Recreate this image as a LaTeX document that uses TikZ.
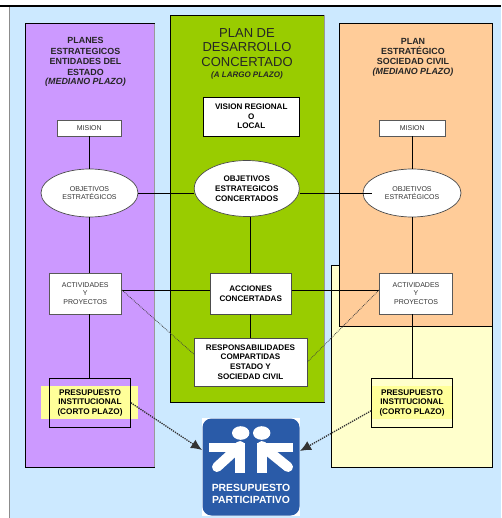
\documentclass[tikz,border=0pt]{standalone}
\usepackage{fontspec}
\setmainfont{Liberation Sans}
\usetikzlibrary{arrows.meta,shapes.geometric}

\definecolor{skyback}{HTML}{CCE9FF}
\definecolor{planpurple}{HTML}{CC99FF}
\definecolor{plangreen}{HTML}{99CC00}
\definecolor{planorange}{HTML}{FFCC99}
\definecolor{planyellow}{HTML}{FFFFCC}
\definecolor{marker}{HTML}{FFFF99}
\definecolor{logoblue}{HTML}{2A5BA8}

\tikzset{
  panel/.style={draw=black,line width=.7pt},
  title/.style={align=center,inner sep=0pt,text=black!85,font=\fontsize{8.9}{10.4}\selectfont\bfseries},
  smallbox/.style={draw=black!65,fill=white,line width=.8pt,inner sep=0pt,align=center,text=black!80,
    font=\fontsize{7}{8.2}\selectfont},
  midbox/.style={draw=black!70,fill=white,line width=.8pt,inner sep=0pt,align=center,
    font=\fontsize{8.1}{9.7}\selectfont\bfseries},
  oval/.style={ellipse,draw=black!70,fill=white,line width=.7pt,inner sep=0pt,align=center},
  budget/.style={draw=black,line width=.7pt,inner sep=0pt,align=center,minimum width=81pt,minimum height=48.5pt,
    font=\fontsize{8.2}{9.4}\selectfont\bfseries},
  link/.style={draw=black,line width=.8pt},
  dotlink/.style={draw=black!75,line width=.8pt,densely dotted},
  toplan/.style={draw=black!80,line width=1.3pt,densely dotted,-{Latex[length=11pt,width=10pt]}}
}

\begin{document}
\begin{tikzpicture}[x=1pt,y=-1pt]
\useasboundingbox (0,0) rectangle (501,518);
% background
\fill[skyback] (9,6) rectangle (501,518);
\draw[black!45,line width=.8pt] (9,6) -- (9,518);
\draw[black,line width=1.2pt] (0,6) -- (501,6);

% the plans
\draw[panel,fill=planpurple] (25.5,23.5) rectangle (154,467);
\draw[panel,fill=plangreen] (170.5,15) rectangle (324,402);
\foreach \x/\a/\b in {154.6/24/467,324.6/15/402} \draw[black!40,line width=.8pt] (\x,\a) -- (\x,\b);
\draw[panel,fill=planyellow] (331.5,265) rectangle (492.5,467);
\draw[panel,fill=planorange] (339,23.5) rectangle (492.5,326);
\fill[marker] (41,386) rectangle (138,419);
\fill[marker] (372,386) rectangle (452,419);

\node (titleleft) [title] at (85.5,62) {PLANES\\ESTRATEGICOS\\ENTIDADES DEL\\ESTADO\\[-1pt]{\itshape (MEDIANO PLAZO)}};
\node (titlemid) [align=center,inner sep=0pt,text=black!85,font=\fontsize{13}{14.4}\selectfont] at (247,47.5) {PLAN DE\\DESARROLLO\\CONCERTADO};
\node (titlemidsub) [title,font=\fontsize{8}{10}\selectfont\bfseries] at (247,75) {\itshape (A LARGO PLAZO)};
\node (titleright) [title] at (413,57) {PLAN\\ESTRATÉGICO\\SOCIEDAD CIVIL\\[-1pt]{\itshape (MEDIANO PLAZO)}};

% left column
\node (misleft) [smallbox,minimum width=64.5pt,minimum height=16pt] at (89.25,128) {MISION};
\node (objleft) [oval,minimum width=97pt,minimum height=48pt,font=\fontsize{7}{8}\selectfont,text=black!80] at (89.5,193) {OBJETIVOS\\ESTRATÉGICOS};
\node (actleft) [smallbox,minimum width=72.5pt,minimum height=41pt] at (85.25,293.5) {ACTIVIDADES\\[.4pt]Y\\[.4pt]PROYECTOS};
\node (preleft) [budget] at (90,402.75) {PRESUPUESTO\\INSTITUCIONAL\\(CORTO PLAZO)};

% middle column
\node (vision) [midbox,draw=black,minimum width=96.5pt,minimum height=39pt] at (251.25,116.5) {VISION REGIONAL\\O\\LOCAL};
\node (objmid) [oval,minimum width=105pt,minimum height=56pt,font=\fontsize{8.1}{9.9}\selectfont\bfseries] at (246.75,188.5) {OBJETIVOS\\ESTRATEGICOS\\CONCERTADOS};
\node (accion) [midbox,minimum width=81.5pt,minimum height=41pt] at (250.75,293.5) {ACCIONES\\CONCERTADAS};
\node (resp) [midbox,minimum width=113pt,minimum height=48pt] at (250.5,362) {RESPONSABILIDADES\\COMPARTIDAS\\ESTADO Y\\SOCIEDAD CIVIL};

% right column
\node (misright) [smallbox,minimum width=65.5pt,minimum height=16pt] at (412.25,128) {MISION};
\node (objright) [oval,minimum width=98pt,minimum height=48pt,font=\fontsize{7}{8}\selectfont,text=black!80] at (412,193) {OBJETIVOS\\ESTRATÉGICOS};
\node (actright) [smallbox,minimum width=73pt,minimum height=41pt] at (416,293.5) {ACTIVIDADES\\[.4pt]Y\\[.4pt]PROYECTOS};
\node (preright) [budget] at (412,402.75) {PRESUPUESTO\\INSTITUCIONAL\\(CORTO PLAZO)};

% logo
\fill[white] (202,418) rectangle (300,516);
\node (logo) [fill=logoblue,rounded corners=9pt,minimum size=97pt,inner sep=0pt] at (251,467) {};
\fill[white] (240.7,433) ellipse (8.7 and 6.8);
\fill[white] (261.7,433) ellipse (8.7 and 6.8);
\draw[white,line width=9.5pt,line join=miter] (209,447.5) -- (240,447.5) -- (240,473);
\draw[white,line width=9.5pt,line join=miter] (293,447.5) -- (262,447.5) -- (262,473);
\draw[white,line width=10pt,line cap=round] (240,446) -- (217,467);
\draw[white,line width=10pt,line cap=round] (262,446) -- (288,467);
\node (logotext) [align=center,inner sep=0pt,text=white,font=\fontsize{10.4}{12}\selectfont\bfseries] at (251,494) {PRESUPUESTO\\PARTICIPATIVO};

% connectors
\draw[link] (misleft) -- (misleft |- objleft.north);
\draw[link] (misleft |- objleft.south) -- (misleft |- actleft.north);
\draw[link] (misleft |- actleft.south) -- (misleft |- preleft.north);
\draw[link] (vision.south -| accion) -- (vision.south -| accion |- objmid.north);
\draw[link] (objmid.south -| accion) -- (accion.north);
\draw[link] (accion.south) -- (accion.south |- resp.north);
\draw[link] (misright) -- (misright |- objright.north);
\draw[link] (misright |- objright.south) -- (misright |- actright.north);
\draw[link] (misright |- actright.south) -- (misright |- preright.north);
\draw[link] (objleft.east) -- (objleft.east -| objmid.west);
\draw[link] (objleft.east -| objmid.east) -- ([xshift=9pt]objleft.east -| objright.west);
\draw[link] ([yshift=3.5pt]actleft.east) -- ([yshift=3.5pt]accion.west);
\draw[link] ([yshift=3.5pt]accion.east) -- ([yshift=3.5pt]actright.west);
\draw[dotlink] ([yshift=3.5pt]actleft.east) -- ([yshift=8pt]resp.west);
\draw[dotlink] ([yshift=3.5pt]actright.west) -- (resp.east);
\coordinate (tipleft) at (202,450);
\coordinate (tipright) at (300,451);
\draw[toplan] (preleft.east) -- (tipleft);
\draw[toplan] ([yshift=-8pt]preright.west) -- (tipright);
\end{tikzpicture}
\end{document}
